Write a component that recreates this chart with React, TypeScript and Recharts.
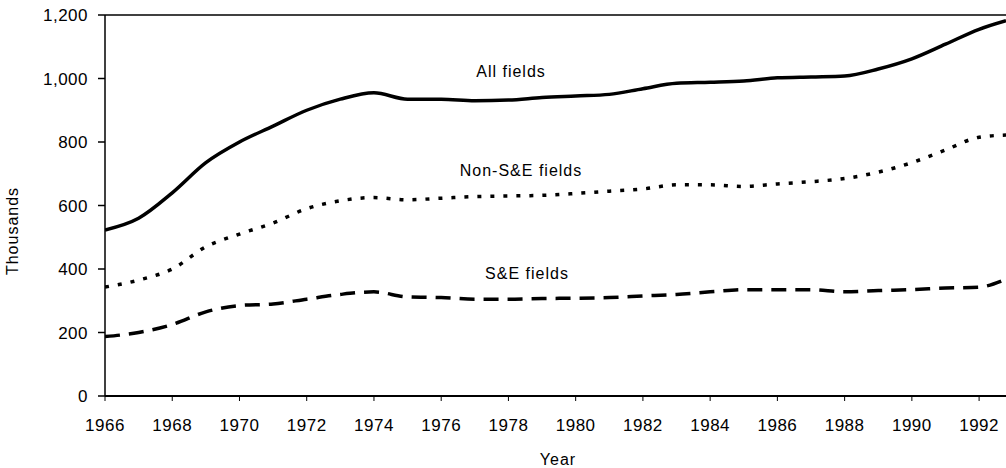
import { LineChart, Line, XAxis, YAxis, ReferenceLine } from 'recharts'

const years = [
  1966, 1967, 1968, 1969, 1970, 1971, 1972, 1973, 1974, 1975, 1976, 1977, 1978, 1979,
  1980, 1981, 1982, 1983, 1984, 1985, 1986, 1987, 1988, 1989, 1990, 1991, 1992, 1992.8,
]

const allFields = [
  523, 560, 640, 735, 800, 850, 900, 935, 955, 935, 935, 930, 932, 940,
  945, 950, 968, 985, 988, 992, 1002, 1005, 1008, 1030, 1062, 1108, 1155, 1182,
]

const nonSEFields = [
  343, 365, 400, 470, 510, 545, 590, 615, 625, 618, 623, 628, 630, 632,
  638, 645, 652, 665, 665, 660, 668, 675, 685, 705, 735, 775, 815, 822,
]

const seFields = [
  187, 200, 225, 265, 285, 290, 305, 320, 328, 312, 310, 305, 305, 307,
  308, 310, 315, 320, 328, 335, 335, 335, 328, 332, 335, 340, 343, 368,
]

const xTicks = [1966, 1968, 1970, 1972, 1974, 1976, 1978, 1980, 1982, 1984, 1986, 1988, 1990, 1992]
const yTicks = [0, 200, 400, 600, 800, 1000, 1200]

const data = years.map((year, i) => ({
  year,
  all: allFields[i],
  nonSE: nonSEFields[i],
  se: seFields[i],
}))

const font = 'Liberation Sans, Arial, sans-serif'
const tickStyle = { fill: '#000', fontSize: 17, fontFamily: font, letterSpacing: 0.5 }
const labelProps = { textAnchor: 'middle' as const, fontSize: 16, fontFamily: font, fill: '#000', letterSpacing: 1 }

export default function App() {
  return (
    <div style={{ position: 'absolute', left: 0, top: 0, width: 1006, height: 468, background: '#fff' }}>
      <LineChart
        width={1006}
        height={468}
        data={data}
        margin={{ top: 15, right: 0, bottom: 22, left: 25 }}
      >
        <XAxis
          dataKey="year"
          type="number"
          domain={[1966, 1992.8]}
          ticks={xTicks}
          allowDataOverflow
          tickSize={5}
          tickMargin={18}
          height={50}
          stroke="#000"
          strokeWidth={2}
          tick={tickStyle}
          tickLine={{ stroke: '#000', strokeWidth: 1 }}
        />
        <YAxis
          type="number"
          domain={[0, 1200]}
          ticks={yTicks}
          tickFormatter={(v: number) => v.toLocaleString('en-US')}
          width={80}
          tickSize={7}
          tickMargin={10}
          stroke="#000"
          strokeWidth={1.5}
          tick={tickStyle}
        />
        <ReferenceLine y={1200} stroke="#000" strokeWidth={1.5} />
        <Line
          type="monotone"
          dataKey="all"
          stroke="#000"
          strokeWidth={3.5}
          dot={false}
          isAnimationActive={false}
        />
        <Line
          type="monotone"
          dataKey="nonSE"
          stroke="#000"
          strokeWidth={3.5}
          strokeDasharray="4 9"
          dot={false}
          isAnimationActive={false}
        />
        <Line
          type="monotone"
          dataKey="se"
          stroke="#000"
          strokeWidth={3.5}
          strokeDasharray="15 9"
          dot={false}
          isAnimationActive={false}
        />
        <text x={511} y={77} {...labelProps}>All fields</text>
        <text x={521} y={176} {...labelProps}>Non-S&amp;E fields</text>
        <text x={527} y={279} {...labelProps}>S&amp;E fields</text>
        <text x={558} y={465} {...labelProps}>Year</text>
        <text {...labelProps} x={18} y={231} transform="rotate(-90 18 231)">
          Thousands
        </text>
      </LineChart>
    </div>
  )
}
